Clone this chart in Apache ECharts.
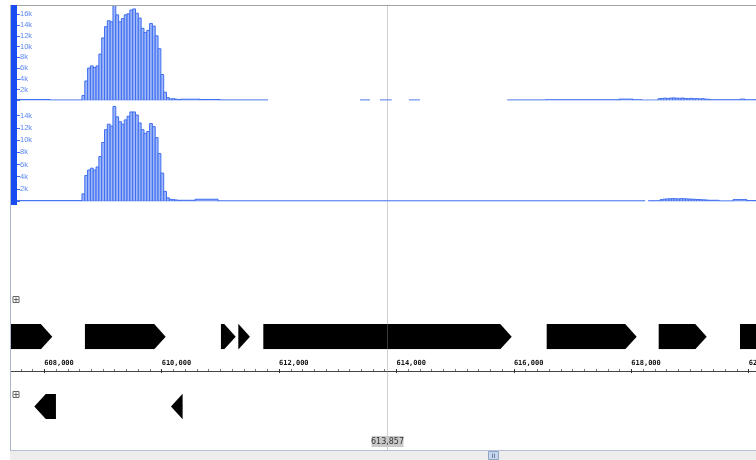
<!DOCTYPE html>
<html>
<head>
<meta charset="utf-8">
<script src="https://cdn.jsdelivr.net/npm/echarts@6/dist/echarts.min.js"></script>
<style>
  html, body { margin: 0; padding: 0; background: #fff; }
  #chart { width: 756px; height: 460px; }
</style>
</head>
<body>
<div id="chart"></div>
<script>
// Visible locus window (bp) and layout scale
const viewStart = 607416;
const bpPerPx = 12000 / 704.4;
const viewWidthPx = 746;
const viewEnd = viewStart + viewWidthPx * bpPerPx;
const cursorPos = 613857;

// Ruler ticks: labelled every 2 kb, minor marks every 200 bp
const rulerMajor = [608000, 610000, 612000, 614000, 616000, 618000, 620000];
const rulerMinorStep = 200;

// Coverage: dense bins across the expressed region
const peakStart = 608642;
const binSize = 48;
const track1Peak = [900, 3600, 6000, 6400, 6100, 6400, 8600, 11600, 13700, 14800, 14600, 17700,
  15900, 14600, 15200, 15900, 16100, 16800, 17000, 16200, 15300, 13400, 12600, 13000, 14300,
  13800, 12000, 9600, 4800, 1500, 500, 250, 300, 200, 150];
const track2Peak = [1200, 4200, 5100, 5400, 5100, 5600, 7300, 9600, 11700, 12600, 12300, 15500,
  13800, 13000, 12600, 13300, 13900, 14600, 14600, 14100, 12800, 11700, 11100, 11400, 12700,
  12200, 10400, 7800, 4600, 1600, 550, 300, 250, 200, 150];

// Coverage: low-depth spans [start, end, depth]
const track1Flat = [
  [607416, 608098, 150], [608098, 608642, 40],
  [610322, 610653, 200], [610653, 610994, 150], [610994, 611812, 50],
  [613378, 613548, 50], [613719, 613918, 50], [614213, 614400, 50],
  [615888, 616547, 50], [616547, 617791, 100], [617791, 618030, 220],
  [618030, 618183, 100], [618183, 618456, 20],
  [618456, 618505, 300], [618505, 618554, 350], [618554, 618603, 400], [618603, 618652, 350],
  [618652, 618702, 420], [618702, 618751, 450], [618751, 618800, 400], [618800, 618849, 380],
  [618849, 618898, 420], [618898, 618948, 350], [618948, 618997, 320], [618997, 619046, 360],
  [619046, 619095, 300], [619095, 619145, 320], [619145, 619194, 260], [619194, 619243, 300],
  [619243, 619292, 220], [619292, 619341, 180],
  [619341, 619852, 100], [619852, 619937, 220], [619937, 620125, 100]
];
const track2Flat = [
  [607416, 608642, 100],
  [610322, 610569, 150], [610569, 610960, 320], [610960, 618235, 50],
  [618290, 618490, 60],
  [618490, 618538, 250], [618538, 618586, 330], [618586, 618634, 380], [618634, 618682, 400],
  [618682, 618730, 420], [618730, 618778, 400], [618778, 618826, 380], [618826, 618875, 420],
  [618875, 618923, 400], [618923, 618971, 380], [618971, 619019, 350], [619019, 619067, 330],
  [619067, 619115, 300], [619115, 619163, 280], [619163, 619211, 250], [619211, 619259, 220],
  [619259, 619307, 200],
  [619307, 619494, 150], [619494, 619733, 20], [619733, 619971, 260], [619971, 620125, 100]
];
const track1Max = 17730;
const track2Max = 15900;
const depthInterval = 2000;

// Gene models [start, end, strand]
const forwardGenes = [
  [607000, 608136, 1], [608693, 610068, 1], [611010, 611261, 1], [611305, 611504, 1],
  [611731, 615963, 1], [616559, 618092, 1], [618467, 619285, 1], [619852, 620700, 1]
];
const reverseGenes = [
  [607830, 608199, -1], [610158, 610357, -1]
];
const headBp = 195;

function binsFrom(start, values) {
  return values.map((v, i) => [start + i * binSize, start + (i + 1) * binSize, v]);
}
const track1Data = binsFrom(peakStart, track1Peak).concat(track1Flat);
const track2Data = binsFrom(peakStart, track2Peak).concat(track2Flat);

const rulerMinor = [];
for (let p = Math.ceil(viewStart / rulerMinorStep) * rulerMinorStep; p <= viewEnd; p += rulerMinorStep) {
  if (rulerMajor.indexOf(p) < 0) rulerMinor.push(p);
}

function renderBin(params, api) {
  const p0 = api.coord([api.value(0), api.value(2)]);
  const p1 = api.coord([api.value(1), 0]);
  return {
    type: 'rect',
    shape: { x: p0[0], y: p0[1], width: p1[0] - p0[0], height: p1[1] - p0[1] },
    style: { fill: '#9fb7f7', stroke: '#3f6ef1', lineWidth: 1 }
  };
}

function renderGene(params, api) {
  const s = api.value(0), e = api.value(1), strand = api.value(2);
  const a = api.coord([s, 1]);
  const b = api.coord([e, 0]);
  const x0 = a[0], x1 = b[0], top = a[1], bot = b[1];
  const mid = (top + bot) / 2;
  const head = Math.min(api.size([headBp, 0])[0], x1 - x0);
  const pts = strand > 0
    ? [[x0, top], [x1 - head, top], [x1, mid], [x1 - head, bot], [x0, bot]]
    : [[x1, top], [x0 + head, top], [x0, mid], [x0 + head, bot], [x1, bot]];
  return { type: 'polygon', shape: { points: pts }, style: { fill: '#000' } };
}

const trackGrid = (top, height) => ({
  left: 10, width: viewWidthPx, top: top, height: height,
  containLabel: false, outerBoundsMode: 'none'
});
const hiddenX = (gi) => ({
  type: 'value', gridIndex: gi, min: viewStart, max: viewEnd, show: false
});
const depthAxis = (gi, max) => ({
  type: 'value', gridIndex: gi, min: 0, max: max, interval: depthInterval,
  position: 'left', offset: -7,
  axisLine: { show: false },
  splitLine: { show: false },
  axisTick: { show: true, inside: true, length: 3, lineStyle: { color: '#3f6ef1' } },
  axisLabel: {
    inside: true, margin: 3, showMaxLabel: false,
    color: '#5b86f2', fontSize: 7.5, fontFamily: 'Liberation Sans',
    formatter: (v) => (v === 0 ? '' : (v / 1000) + 'k')
  }
});
const rulerAxis = (extra) => Object.assign({
  type: 'value', gridIndex: 3, min: viewStart, max: viewEnd, position: 'bottom',
  splitLine: { show: false }, axisLine: { show: false }, axisLabel: { show: false }
}, extra);

const chart = echarts.init(document.getElementById('chart'), null, { renderer: 'canvas' });
chart.setOption({
  animation: false,
  backgroundColor: '#fff',
  grid: [
    trackGrid(5, 95.3),
    trackGrid(104, 97.2),
    trackGrid(324, 25.3),
    trackGrid(300, 71),
    trackGrid(394, 25)
  ],
  xAxis: [
    hiddenX(0), hiddenX(1), hiddenX(2),
    rulerAxis({
      axisLine: { show: true, lineStyle: { color: '#444', width: 1 } },
      axisTick: { show: true, inside: true, length: 2, customValues: rulerMajor, lineStyle: { color: '#333' } },
      axisLabel: {
        show: true, inside: true, margin: 4, align: 'left', customValues: rulerMajor,
        color: '#111', fontSize: 7, fontWeight: 'bold', fontFamily: 'DejaVu Sans Mono',
        formatter: (v) => v.toLocaleString('en-US')
      }
    }),
    hiddenX(4),
    rulerAxis({
      axisTick: { show: true, inside: false, length: 2, customValues: rulerMajor, lineStyle: { color: '#333' } }
    }),
    rulerAxis({
      axisTick: { show: true, inside: true, length: 2, customValues: rulerMinor, lineStyle: { color: '#777' } }
    })
  ],
  yAxis: [
    depthAxis(0, track1Max),
    depthAxis(1, track2Max),
    { type: 'value', gridIndex: 2, min: 0, max: 1, show: false },
    { type: 'value', gridIndex: 3, min: 0, max: 1, show: false },
    { type: 'value', gridIndex: 4, min: 0, max: 1, show: false }
  ],
  series: [
    { type: 'custom', xAxisIndex: 0, yAxisIndex: 0, renderItem: renderBin, data: track1Data,
      encode: { x: [0, 1], y: 2 }, clip: true, silent: true },
    { type: 'custom', xAxisIndex: 1, yAxisIndex: 1, renderItem: renderBin, data: track2Data,
      encode: { x: [0, 1], y: 2 }, clip: true, silent: true },
    { type: 'custom', xAxisIndex: 2, yAxisIndex: 2, renderItem: renderGene, data: forwardGenes,
      encode: { x: [0, 1] }, clip: true, silent: true },
    { type: 'custom', xAxisIndex: 4, yAxisIndex: 4, renderItem: renderGene, data: reverseGenes,
      encode: { x: [0, 1] }, clip: true, silent: true }
  ]
});

// Frame, track handle, expand toggles, scrollbar and the position cursor
const cursorX = Math.round(chart.convertToPixel({ gridIndex: 0 }, [cursorPos, 0])[0]) - 0.5;
function toggleBox(x, y) {
  return {
    type: 'group', x: x, y: y, z: 50,
    children: [
      { type: 'rect', shape: { x: 0.5, y: 0.5, width: 6, height: 6 }, style: { fill: '#fff', stroke: '#666', lineWidth: 1 } },
      { type: 'line', shape: { x1: 3.5, y1: 1.5, x2: 3.5, y2: 6 }, style: { stroke: '#666', lineWidth: 1 } },
      { type: 'line', shape: { x1: 1.5, y1: 3.5, x2: 6, y2: 3.5 }, style: { stroke: '#666', lineWidth: 1 } }
    ]
  };
}
chart.setOption({
  graphic: [
    { type: 'rect', z: 40, shape: { x: 0, y: 0, width: 10, height: 460 }, style: { fill: '#fff' } },
    { type: 'line', z: 45, shape: { x1: 10.5, y1: 5, x2: 10.5, y2: 450 }, style: { stroke: '#a9b6c9', lineWidth: 1 } },
    { type: 'line', z: 45, shape: { x1: 10, y1: 5.5, x2: 756, y2: 5.5 }, style: { stroke: '#a3a3a3', lineWidth: 1 } },
    { type: 'rect', z: 46, shape: { x: 11, y: 5, width: 6, height: 200 }, style: { fill: '#1a4cf4' } },
    toggleBox(12.5, 296),
    toggleBox(12.5, 391),
    { type: 'line', z: 47, shape: { x1: cursorX, y1: 5, x2: cursorX, y2: 450 }, style: { stroke: 'rgba(140,140,140,0.4)', lineWidth: 1 } },
    { type: 'rect', z: 48, shape: { x: cursorX - 16, y: 436, width: 32, height: 11 }, style: { fill: '#c9c9c9' } },
    { type: 'text', z: 49, x: cursorX, y: 441.5,
      style: { text: cursorPos.toLocaleString('en-US'), fill: '#333', fontSize: 8, fontFamily: 'DejaVu Sans',
               align: 'center', verticalAlign: 'middle' } },
    { type: 'rect', z: 45, shape: { x: 10, y: 451, width: 746, height: 9 }, style: { fill: '#ededed' } },
    { type: 'line', z: 46, shape: { x1: 10, y1: 450.5, x2: 756, y2: 450.5 }, style: { stroke: '#b3c0d5', lineWidth: 1 } },
    { type: 'rect', z: 47, shape: { x: 488.5, y: 451.5, width: 10, height: 8 }, style: { fill: '#c8d6ec', stroke: '#8ea5c8', lineWidth: 1 } },
    { type: 'line', z: 48, shape: { x1: 492.5, y1: 453.5, x2: 492.5, y2: 458 }, style: { stroke: '#6f86aa', lineWidth: 1 } },
    { type: 'line', z: 48, shape: { x1: 494.5, y1: 453.5, x2: 494.5, y2: 458 }, style: { stroke: '#6f86aa', lineWidth: 1 } }
  ]
});
</script>
</body>
</html>
